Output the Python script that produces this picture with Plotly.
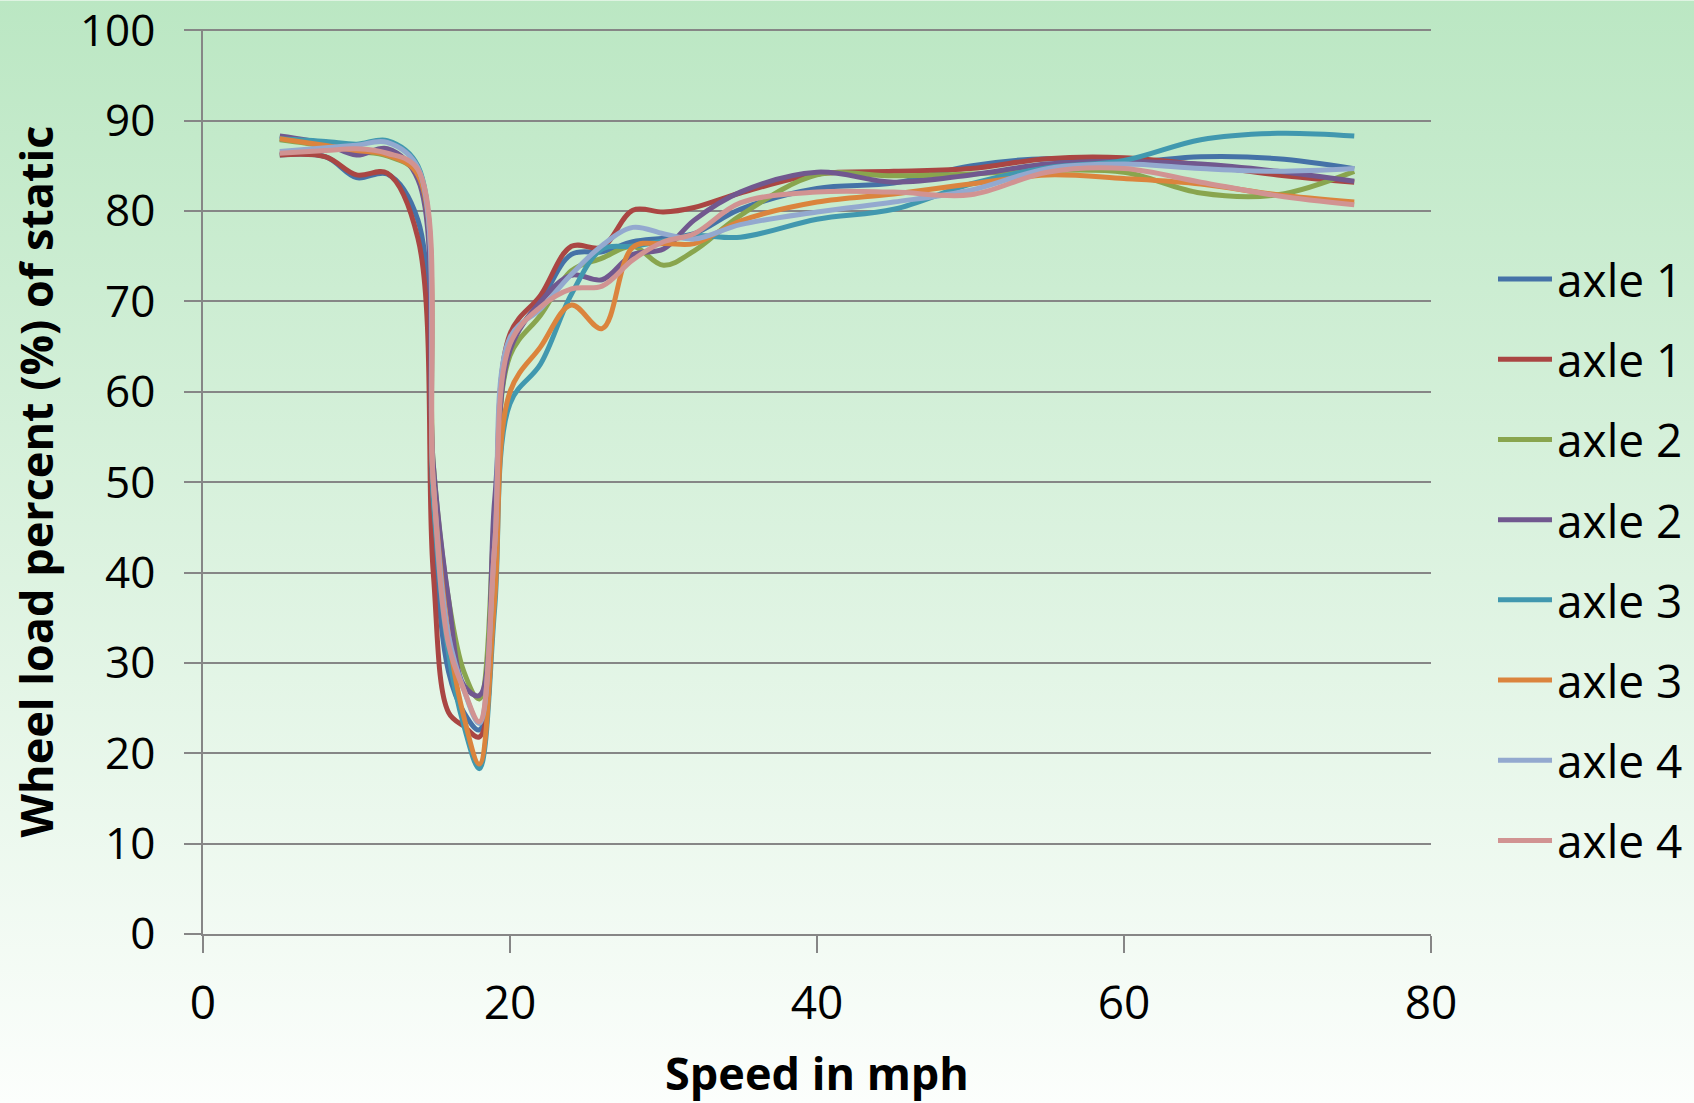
import base64
import plotly.graph_objects as go

# ---------------- data ----------------
speed_mph = [5, 8, 10, 12, 14, 15, 16, 17, 18, 19, 20, 22, 24, 26, 28, 30, 32, 35, 40, 45, 50, 55, 60, 65, 70, 75]

series_names = ["axle 1", "axle 1", "axle 2", "axle 2", "axle 3", "axle 3", "axle 4", "axle 4"]

axle1_a = [86.2, 86.0, 83.7, 84.1, 79.0, 45.0, 29.0, 24.5, 22.6, 42.0, 65.0, 70.0, 75.2, 75.5, 76.6, 77.0, 77.5, 80.2, 82.5, 83.1, 85.0, 85.8, 85.4, 86.0, 85.8, 84.7]
axle1_b = [86.2, 86.0, 84.0, 84.2, 77.0, 40.0, 24.5, 23.0, 21.8, 42.0, 66.4, 70.7, 76.1, 76.0, 80.1, 79.9, 80.4, 82.0, 84.1, 84.4, 84.7, 85.8, 85.9, 85.1, 84.0, 83.2]
axle2_a = [87.9, 87.2, 86.6, 86.1, 84.0, 52.0, 37.0, 29.0, 26.0, 46.0, 64.0, 68.5, 73.4, 74.8, 76.1, 74.0, 75.6, 79.5, 84.0, 83.9, 84.1, 84.5, 84.3, 82.0, 81.8, 84.4]
axle2_b = [88.3, 87.4, 86.2, 86.9, 83.5, 52.0, 37.0, 27.5, 26.4, 48.0, 64.6, 70.0, 72.9, 72.4, 75.2, 75.8, 79.0, 82.1, 84.3, 83.2, 84.0, 85.2, 85.5, 85.2, 84.4, 83.3]
axle3_a = [88.0, 87.7, 87.4, 87.8, 85.0, 48.0, 31.0, 23.0, 18.3, 36.0, 58.7, 63.1, 70.8, 75.8, 76.1, 76.7, 77.3, 77.1, 79.1, 80.2, 83.0, 84.8, 85.6, 87.9, 88.6, 88.3]
axle3_b = [88.0, 87.25, 86.7, 86.2, 84.0, 50.0, 33.0, 24.0, 18.8, 37.0, 60.0, 65.0, 69.6, 67.0, 76.0, 76.4, 76.4, 78.9, 81.0, 81.9, 83.0, 84.0, 83.6, 83.0, 81.8, 81.0]
axle4_a = [86.6, 87.0, 87.3, 87.6, 84.8, 50.0, 33.0, 27.0, 23.3, 43.0, 66.0, 69.2, 73.0, 76.2, 78.2, 77.5, 76.9, 78.5, 79.9, 81.0, 82.3, 84.7, 85.2, 84.7, 84.4, 84.7]
axle4_b = [86.4, 86.7, 86.9, 86.4, 84.6, 50.0, 32.0, 27.0, 23.5, 43.0, 65.3, 69.4, 71.4, 71.7, 74.6, 76.6, 77.5, 80.9, 82.1, 82.1, 81.8, 84.3, 84.7, 83.2, 81.7, 80.7]

series_values = [axle1_a, axle1_b, axle2_a, axle2_b, axle3_a, axle3_b, axle4_a, axle4_b]
series_colors = ["#4572A7", "#AA4643", "#89A54E", "#71588F", "#4198AF", "#DB843D", "#93A9CF", "#D19392"]

x_ticks = [0, 20, 40, 60, 80]
y_ticks = [0, 10, 20, 30, 40, 50, 60, 70, 80, 90, 100]

# ---------------- figure ----------------
W, H = 1694, 1103
Y_TOP = 100.15                      # tiny headroom so the 100 gridline is not clipped
L, R, B = 203, 263, 169
PH = 904 * Y_TOP / 100.0
T = H - B - PH
PW = W - L - R

FONT = "Open Sans, Liberation Sans, DejaVu Sans, sans-serif"
GRID = "#868686"

fig = go.Figure()
for i, (name, vals, col) in enumerate(zip(series_names, series_values, series_colors)):
    fig.add_trace(go.Scatter(
        x=speed_mph, y=vals, name=name, mode="lines",
        line=dict(color=col, width=5, shape="spline", smoothing=1.0),
        legendgroup=f"g{i}",
    ))

svg = (
    '<svg xmlns="http://www.w3.org/2000/svg" width="100" height="100" preserveAspectRatio="none">'
    '<defs><linearGradient id="g" x1="0" y1="0" x2="0" y2="1">'
    '<stop offset="0" stop-color="#BBE7C3"/>'
    '<stop offset="1" stop-color="#FCFEFC"/>'
    '</linearGradient></defs>'
    '<rect width="100" height="100" fill="url(#g)"/></svg>'
)
bg_src = "data:image/svg+xml;base64," + base64.b64encode(svg.encode()).decode()

fig.update_layout(
    width=W, height=H,
    margin=dict(l=L, r=R, t=T, b=B, pad=0, autoexpand=False),
    paper_bgcolor="rgba(0,0,0,0)",
    plot_bgcolor="rgba(0,0,0,0)",
    font=dict(family=FONT, size=45, color="#000000"),
    showlegend=True,
    legend=dict(
        x=(1493 - L) / PW, xanchor="left",
        y=(T + PH - 560) / PH, yanchor="middle",
        bgcolor="rgba(0,0,0,0)",
        font=dict(family=FONT, size=46, color="#000000"),
        tracegroupgap=17.4,
        itemwidth=54,
    ),
    images=[dict(
        source=bg_src, xref="paper", yref="paper",
        x=-L / PW, y=1 + T / PH, sizex=W / PW, sizey=H / PH,
        xanchor="left", yanchor="top", sizing="stretch", layer="below",
    )],
    xaxis=dict(
        range=[0, 80], tickvals=x_ticks, ticktext=[str(v) for v in x_ticks],
        showgrid=False, zeroline=False, automargin=False,
        showline=True, linecolor=GRID, linewidth=1.5,
        ticks="outside", ticklen=17, tickcolor=GRID, tickwidth=1.5,
        ticklabelstandoff=11,
        tickfont=dict(family=FONT, size=46),
        title=dict(text="<b>Speed in mph</b>", font=dict(family=FONT, size=45), standoff=30),
    ),
    yaxis=dict(
        range=[0, Y_TOP], tickvals=y_ticks, ticktext=[str(v) for v in y_ticks],
        showgrid=True, gridcolor=GRID, gridwidth=1.5, zeroline=False, automargin=False,
        showline=True, linecolor=GRID, linewidth=1.5,
        ticks="outside", ticklen=17, tickcolor=GRID, tickwidth=1.5,
        ticklabelstandoff=20, ticklabeloverflow="allow",
        tickfont=dict(family=FONT, size=44),
        title=dict(text="<b>Wheel load percent (%) of static</b>", font=dict(family=FONT, size=45), standoff=12),
    ),
)

fig.write_html("out.html")
